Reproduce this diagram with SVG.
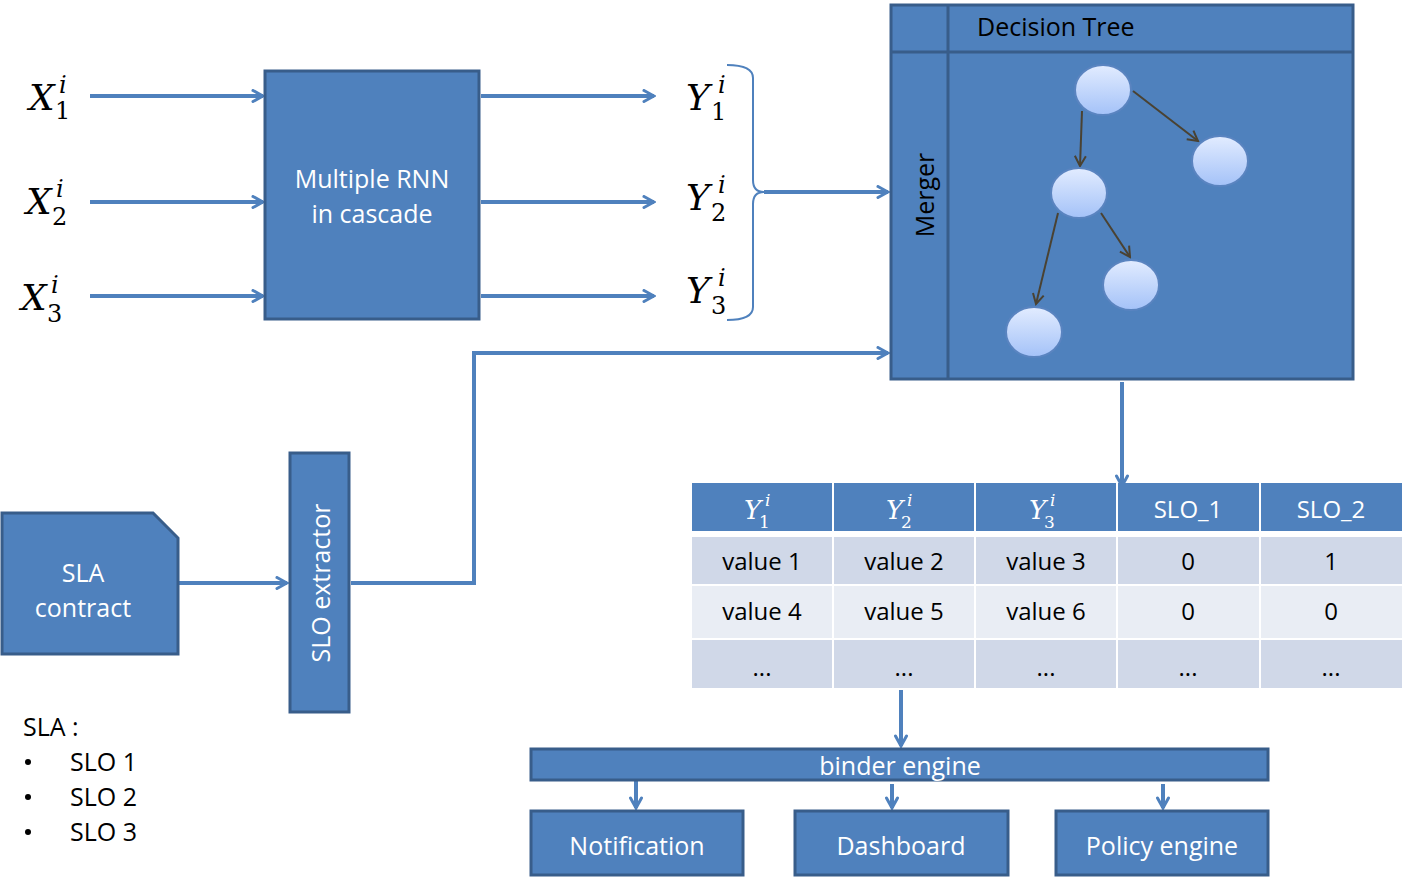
<svg xmlns="http://www.w3.org/2000/svg" width="1403" height="878" viewBox="0 0 1403 878">
<style>
.box{fill:#4F81BD;stroke:#385D8A;stroke-width:3}
.wt{fill:#fff;font-family:"Open Sans","Liberation Sans",sans-serif;font-size:25px;text-anchor:middle;dominant-baseline:central}
.bt{fill:#000;font-family:"Open Sans","Liberation Sans",sans-serif;font-size:25px}
.ct{fill:#000;font-family:"Open Sans","Liberation Sans",sans-serif;font-size:24px;text-anchor:middle;dominant-baseline:central}
.cw{fill:#fff;font-family:"Open Sans","Liberation Sans",sans-serif;font-size:24px;text-anchor:middle;dominant-baseline:central}
.conn{fill:none;stroke:#4F81BD;stroke-width:4;marker-end:url(#a)}
.thin{fill:none;stroke:#4F81BD;stroke-width:2}
.te{fill:none;stroke:#4A4232;stroke-width:2;marker-end:url(#b)}
.mv{font-family:"DejaVu Serif","Liberation Serif",serif;font-style:italic}
.mn{font-family:"DejaVu Serif","Liberation Serif",serif}
.node{fill:url(#g);stroke:#5A84C0;stroke-width:2}
.h{fill:#4F81BD}.r1{fill:#D0D8E8}.r2{fill:#E9EDF4}
</style>
<defs>
<marker id="a" viewBox="0 0 14 14" refX="12" refY="7" markerWidth="14" markerHeight="14" markerUnits="userSpaceOnUse" orient="auto">
<path d="M2,1.5 L12,7 L2,12.5" fill="none" stroke="#4F81BD" stroke-width="3" stroke-linecap="round"/>
</marker>
<marker id="b" viewBox="0 0 14 14" refX="12" refY="7" markerWidth="14" markerHeight="14" markerUnits="userSpaceOnUse" orient="auto">
<path d="M2,1.5 L12,7 L2,12.5" fill="none" stroke="#4A4232" stroke-width="2"/>
</marker>
<linearGradient id="g" x1="0" y1="0" x2="0" y2="1">
<stop offset="0" stop-color="#E2ECFF"/>
<stop offset="1" stop-color="#A4C2F8"/>
</linearGradient>
</defs>

<g id="connectors">
<line class="conn" x1="90" y1="96" x2="263" y2="96"/>
<line class="conn" x1="90" y1="202" x2="263" y2="202"/>
<line class="conn" x1="90" y1="296" x2="263" y2="296"/>
<line class="conn" x1="481" y1="96" x2="654" y2="96"/>
<line class="conn" x1="481" y1="202" x2="654" y2="202"/>
<line class="conn" x1="481" y1="296" x2="654" y2="296"/>
<path class="thin" d="M727,65 Q753,65 753,78 L753,180 Q753,192 764,192 Q753,192 753,204 L753,307 Q753,320 727,320"/>
<line class="conn" x1="764" y1="192" x2="888" y2="192"/>
<path class="conn" d="M351,583 L474,583 L474,353 L888,353"/>
<line class="conn" x1="179" y1="583" x2="287" y2="583"/>
<line class="conn" x1="1122" y1="382" x2="1122" y2="486"/>
<line class="conn" x1="901" y1="690" x2="901" y2="746"/>
<line class="conn" x1="636" y1="781" x2="636" y2="808"/>
<line class="conn" x1="892" y1="784" x2="892" y2="808"/>
<line class="conn" x1="1163" y1="784" x2="1163" y2="808"/>
</g>

<g id="x-labels">
<text class="mv" x="29" y="110" font-size="36">X</text><text class="mv" x="59" y="93" font-size="24">i</text><text class="mn" x="55" y="119" font-size="24">1</text>
<text class="mv" x="26" y="214" font-size="36">X</text><text class="mv" x="56" y="197" font-size="24">i</text><text class="mn" x="52" y="225" font-size="24">2</text>
<text class="mv" x="21" y="310" font-size="36">X</text><text class="mv" x="51" y="293" font-size="24">i</text><text class="mn" x="47" y="322" font-size="24">3</text>
</g>

<g id="rnn">
<rect class="box" x="265" y="71" width="214" height="248"/>
<text class="wt" x="372" y="178">Multiple RNN</text>
<text class="wt" x="372" y="213">in cascade</text>
</g>

<g id="y-labels">
<text class="mv" x="686" y="110" font-size="36">Y</text><text class="mv" x="718" y="93" font-size="24">i</text><text class="mn" x="711" y="120" font-size="24">1</text>
<text class="mv" x="686" y="210" font-size="36">Y</text><text class="mv" x="718" y="193" font-size="24">i</text><text class="mn" x="711" y="221" font-size="24">2</text>
<text class="mv" x="686" y="303" font-size="36">Y</text><text class="mv" x="718" y="286" font-size="24">i</text><text class="mn" x="711" y="314" font-size="24">3</text>
</g>

<g id="decision-tree">
<rect class="box" x="891" y="5" width="462" height="374"/>
<line x1="891" y1="52" x2="1353" y2="52" stroke="#385D8A" stroke-width="3"/>
<line x1="948" y1="5" x2="948" y2="379" stroke="#385D8A" stroke-width="3"/>
<text class="bt" x="977" y="36">Decision Tree</text>
<text class="bt" x="0" y="0" text-anchor="middle" dominant-baseline="central" transform="translate(924,195) rotate(-90)">Merger</text>
<line class="te" x1="1082" y1="111" x2="1080" y2="166"/>
<line class="te" x1="1133" y1="91" x2="1198" y2="141"/>
<line class="te" x1="1101" y1="213" x2="1130" y2="257"/>
<line class="te" x1="1058" y1="213" x2="1036" y2="304"/>
<ellipse class="node" cx="1103" cy="90" rx="28" ry="25"/>
<ellipse class="node" cx="1220" cy="161" rx="28" ry="25"/>
<ellipse class="node" cx="1079" cy="193" rx="28" ry="25"/>
<ellipse class="node" cx="1131" cy="285" rx="28" ry="25"/>
<ellipse class="node" cx="1034" cy="332" rx="28" ry="25"/>
</g>

<g id="sla-contract">
<path class="box" d="M2,513 L153,513 L178,538 L178,654 L2,654 Z"/>
<text class="wt" x="83" y="572">SLA</text>
<text class="wt" x="83" y="607">contract</text>
</g>

<g id="slo-extractor">
<rect class="box" x="290" y="453" width="59" height="259"/>
<text class="wt" x="0" y="0" transform="translate(320,583) rotate(-90)">SLO extractor</text>
</g>

<g id="sla-list">
<text class="bt" x="23" y="736">SLA :</text>
<circle cx="28" cy="762" r="3"/><text class="bt" x="70" y="771">SLO 1</text>
<circle cx="28" cy="797" r="3"/><text class="bt" x="70" y="806">SLO 2</text>
<circle cx="28" cy="832" r="3"/><text class="bt" x="70" y="841">SLO 3</text>
</g>

<g id="table">
<rect class="h" x="692" y="483" width="140" height="48"/>
<rect class="h" x="834" y="483" width="140" height="48"/>
<rect class="h" x="976" y="483" width="140" height="48"/>
<rect class="h" x="1118" y="483" width="141" height="48"/>
<rect class="h" x="1261" y="483" width="141" height="48"/>
<rect class="r1" x="692" y="537" width="140" height="47"/>
<rect class="r1" x="834" y="537" width="140" height="47"/>
<rect class="r1" x="976" y="537" width="140" height="47"/>
<rect class="r1" x="1118" y="537" width="141" height="47"/>
<rect class="r1" x="1261" y="537" width="141" height="47"/>
<rect class="r2" x="692" y="586" width="140" height="52"/>
<rect class="r2" x="834" y="586" width="140" height="52"/>
<rect class="r2" x="976" y="586" width="140" height="52"/>
<rect class="r2" x="1118" y="586" width="141" height="52"/>
<rect class="r2" x="1261" y="586" width="141" height="52"/>
<rect class="r1" x="692" y="640" width="140" height="48"/>
<rect class="r1" x="834" y="640" width="140" height="48"/>
<rect class="r1" x="976" y="640" width="140" height="48"/>
<rect class="r1" x="1118" y="640" width="141" height="48"/>
<rect class="r1" x="1261" y="640" width="141" height="48"/>
<g fill="#fff">
<text class="mv" x="744" y="519" font-size="26">Y</text><text class="mv" x="765" y="506" font-size="17">i</text><text class="mn" x="759" y="528" font-size="17">1</text>
<text class="mv" x="886" y="519" font-size="26">Y</text><text class="mv" x="907" y="506" font-size="17">i</text><text class="mn" x="901" y="528" font-size="17">2</text>
<text class="mv" x="1029" y="519" font-size="26">Y</text><text class="mv" x="1050" y="506" font-size="17">i</text><text class="mn" x="1044" y="528" font-size="17">3</text>
</g>
<text class="cw" x="1188" y="508">SLO_1</text>
<text class="cw" x="1331" y="508">SLO_2</text>
<text class="ct" x="762" y="560">value 1</text>
<text class="ct" x="904" y="560">value 2</text>
<text class="ct" x="1046" y="560">value 3</text>
<text class="ct" x="1188" y="560">0</text>
<text class="ct" x="1331" y="560">1</text>
<text class="ct" x="762" y="610">value 4</text>
<text class="ct" x="904" y="610">value 5</text>
<text class="ct" x="1046" y="610">value 6</text>
<text class="ct" x="1188" y="610">0</text>
<text class="ct" x="1331" y="610">0</text>
<text class="ct" x="762" y="666">...</text>
<text class="ct" x="904" y="666">...</text>
<text class="ct" x="1046" y="666">...</text>
<text class="ct" x="1188" y="666">...</text>
<text class="ct" x="1331" y="666">...</text>
</g>

<g id="binder-engine">
<rect class="box" x="531" y="749" width="737" height="31"/>
<text class="wt" x="900" y="765">binder engine</text>
</g>
<g id="notification">
<rect class="box" x="531" y="811" width="212" height="64"/>
<text class="wt" x="637" y="845">Notification</text>
</g>
<g id="dashboard">
<rect class="box" x="795" y="811" width="213" height="64"/>
<text class="wt" x="901" y="845">Dashboard</text>
</g>
<g id="policy-engine">
<rect class="box" x="1056" y="811" width="212" height="64"/>
<text class="wt" x="1162" y="845">Policy engine</text>
</g>
</svg>
